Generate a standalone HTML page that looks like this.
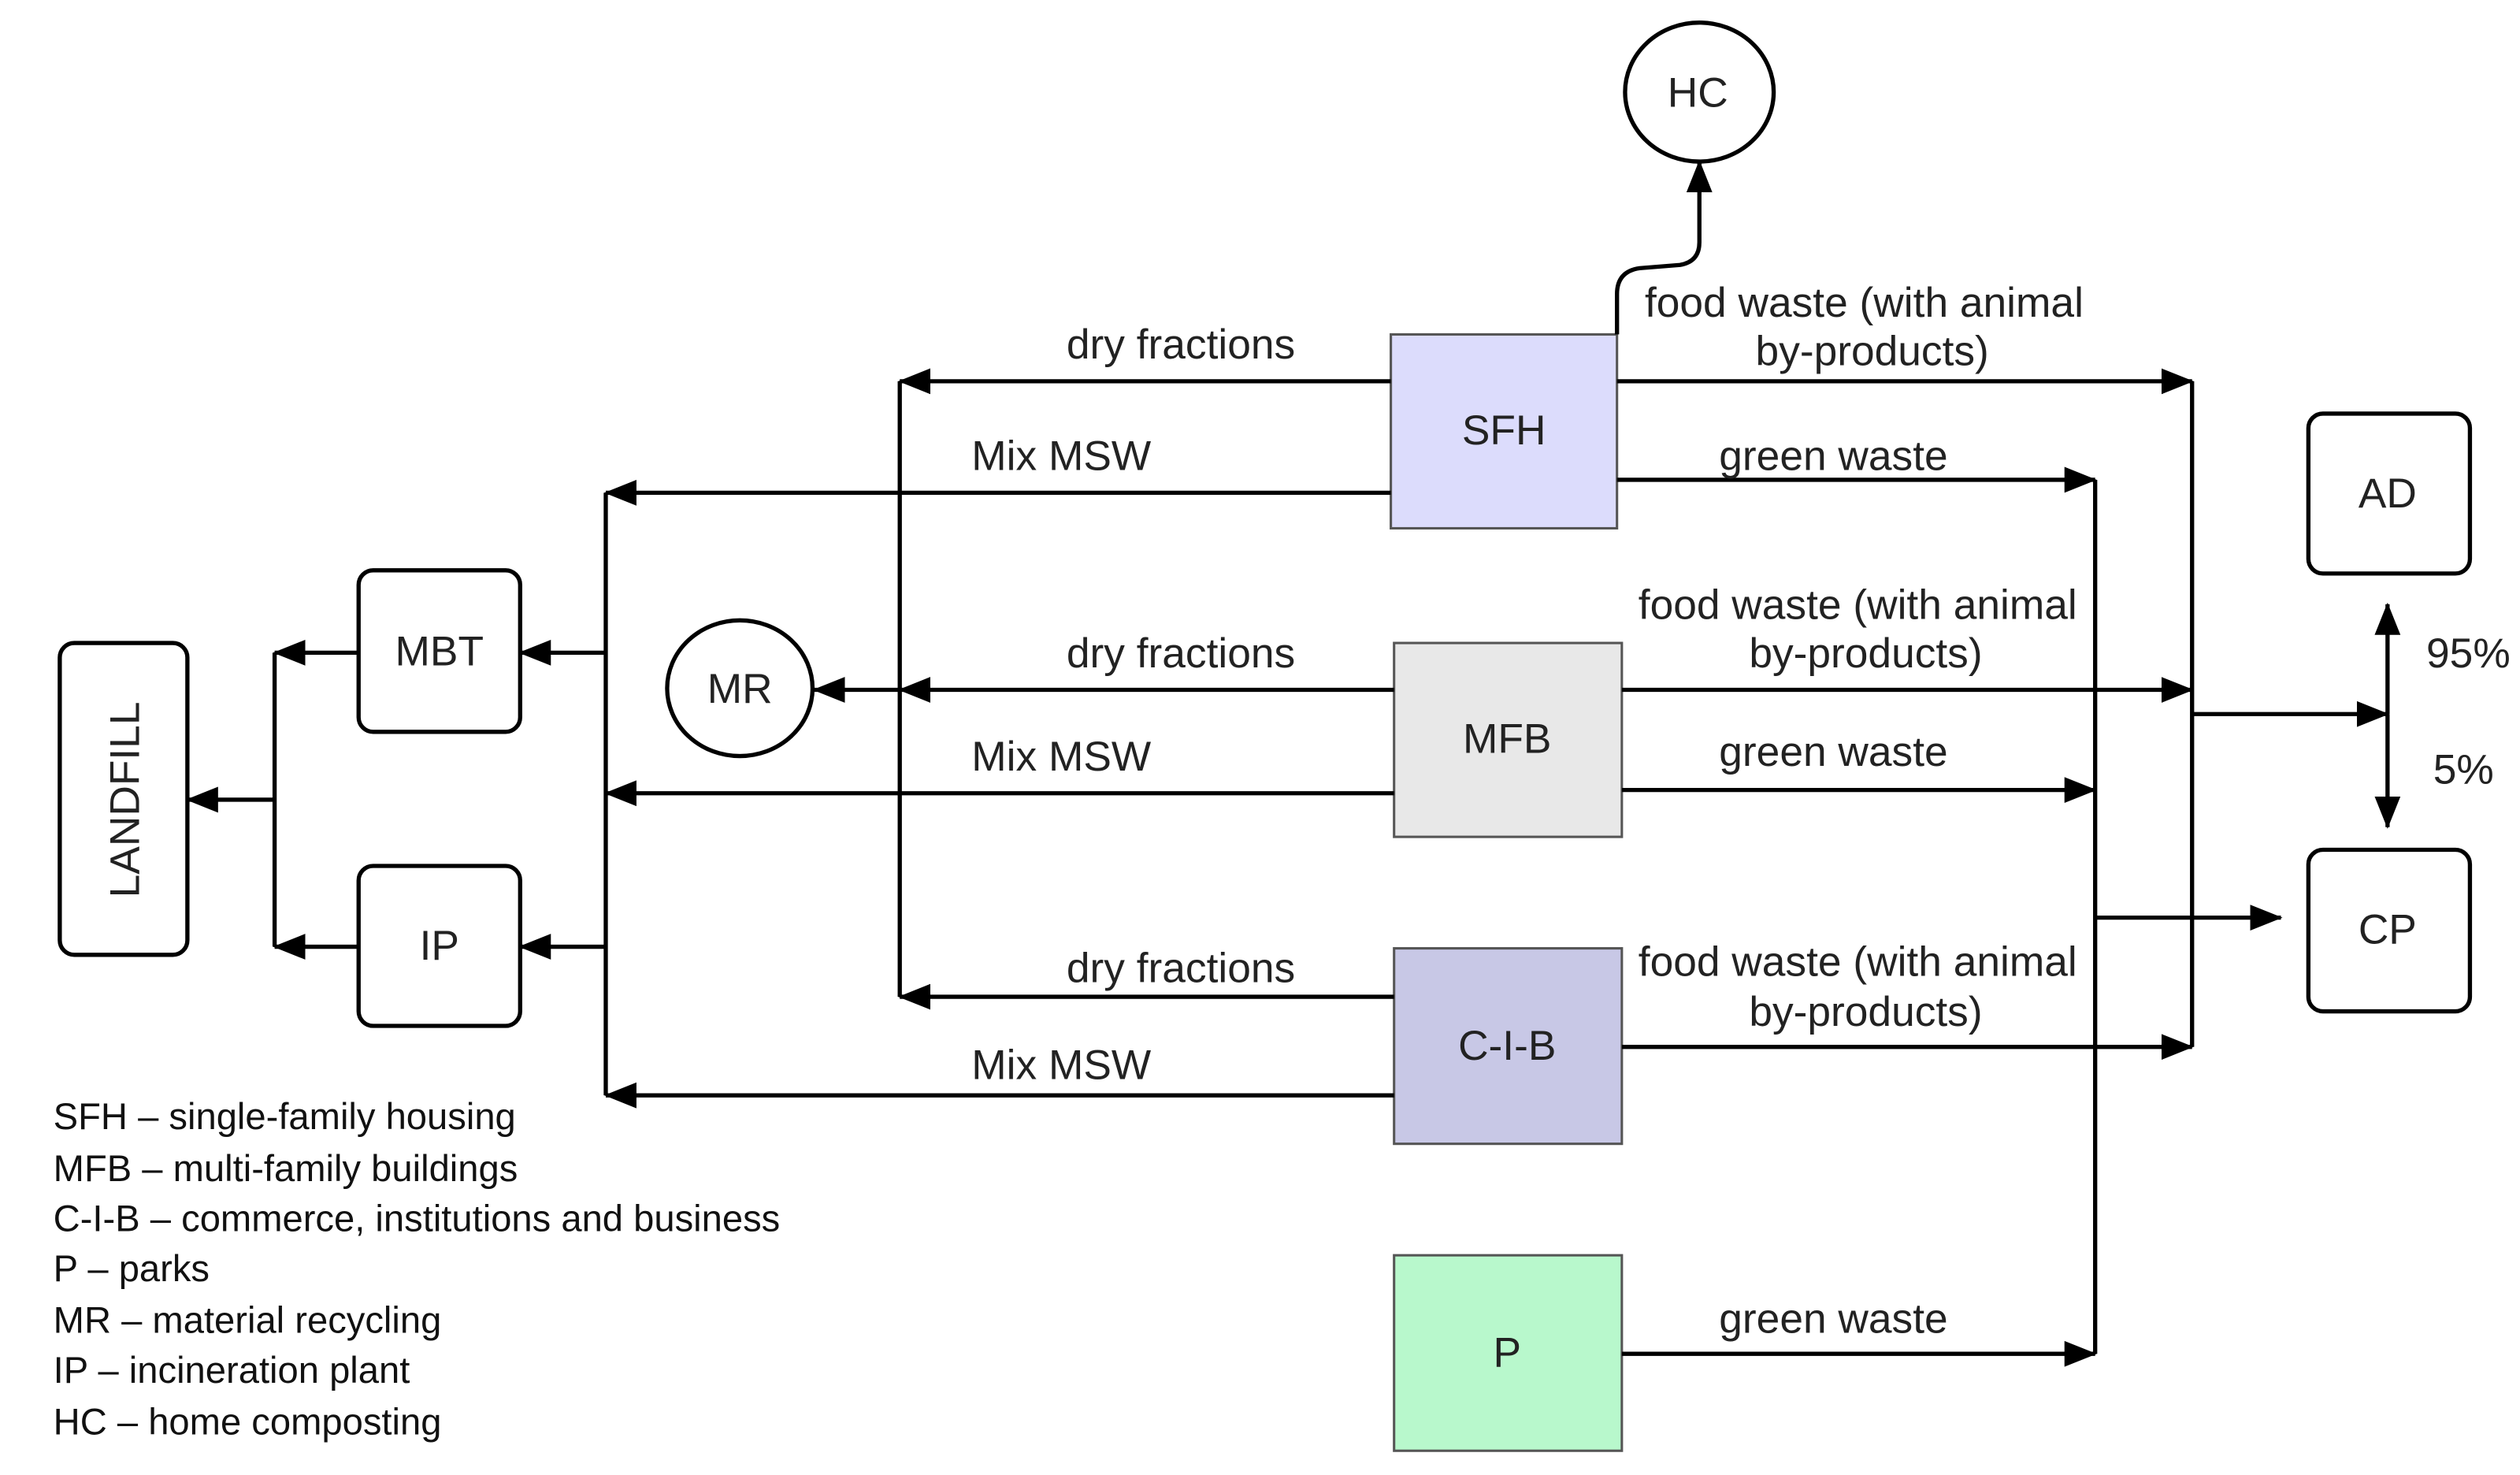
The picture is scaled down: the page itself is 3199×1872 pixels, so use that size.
<!DOCTYPE html>
<html><head><meta charset="utf-8"><style>
html,body{margin:0;padding:0;background:#fff;width:3199px;height:1872px;overflow:hidden}
svg{display:block}
text{font-family:"Liberation Sans",Arial,sans-serif;fill:#222}
.l{font-family:"Liberation Sans Narrow","Liberation Sans",sans-serif;font-size:23px;fill:#111}
</style></head><body>
<svg width="3199" height="1872" viewBox="0 0 1560 913" preserveAspectRatio="none" xmlns="http://www.w3.org/2000/svg">
<defs>
<marker id="a" markerWidth="20" markerHeight="20" refX="19" refY="10" orient="auto" markerUnits="userSpaceOnUse">
<path d="M0,2 L20,10 L0,18 Z" fill="#000"/></marker>
</defs>
<g stroke="#000" stroke-width="2.6" fill="none">
<rect x="861" y="207" width="140" height="120" fill="#dcdcfc" stroke="#555" stroke-width="1.5"/>
<rect x="863" y="398" width="141" height="120" fill="#e8e8e8" stroke="#555" stroke-width="1.5"/>
<rect x="863" y="587" width="141" height="121" fill="#c8c8e6" stroke="#555" stroke-width="1.5"/>
<rect x="863" y="777" width="141" height="121" fill="#b8f8cc" stroke="#555" stroke-width="1.5"/>
<rect x="1429" y="256" width="100" height="99" rx="9"/>
<rect x="1429" y="526" width="100" height="100" rx="9"/>
<rect x="37" y="398" width="79" height="193" rx="9"/>
<rect x="222" y="353" width="100" height="100" rx="9"/>
<rect x="222" y="536" width="100" height="99" rx="9"/>
<ellipse cx="1052" cy="57" rx="46" ry="43"/>
<ellipse cx="458" cy="426" rx="45" ry="42"/>
<line x1="861" y1="236" x2="557" y2="236" marker-end="url(#a)"/>
<line x1="557" y1="236" x2="557" y2="617"/>
<line x1="863" y1="617" x2="557" y2="617" marker-end="url(#a)"/>
<line x1="863" y1="427" x2="557" y2="427" marker-end="url(#a)"/>
<line x1="557" y1="427" x2="504" y2="427" marker-end="url(#a)"/>
<line x1="861" y1="305" x2="375" y2="305" marker-end="url(#a)"/>
<line x1="375" y1="305" x2="375" y2="678"/>
<line x1="863" y1="491" x2="375" y2="491" marker-end="url(#a)"/>
<line x1="863" y1="678" x2="375" y2="678" marker-end="url(#a)"/>
<line x1="375" y1="404" x2="322" y2="404" marker-end="url(#a)"/>
<line x1="375" y1="586" x2="322" y2="586" marker-end="url(#a)"/>
<line x1="222" y1="404" x2="170" y2="404" marker-end="url(#a)"/>
<line x1="222" y1="586" x2="170" y2="586" marker-end="url(#a)"/>
<line x1="170" y1="404" x2="170" y2="586"/>
<line x1="170" y1="495" x2="116" y2="495" marker-end="url(#a)"/>
<path d="M1001,207 L1001,182 Q1001,168 1015,166 L1040,164 Q1052,162 1052,150 L1052,100" marker-end="url(#a)"/>
<line x1="1001" y1="236" x2="1357" y2="236" marker-end="url(#a)"/>
<line x1="1357" y1="236" x2="1357" y2="648"/>
<line x1="1004" y1="427" x2="1357" y2="427" marker-end="url(#a)"/>
<line x1="1004" y1="648" x2="1357" y2="648" marker-end="url(#a)"/>
<line x1="1357" y1="442" x2="1478" y2="442" marker-end="url(#a)"/>
<line x1="1478" y1="442" x2="1478" y2="374" marker-end="url(#a)"/>
<line x1="1478" y1="442" x2="1478" y2="512" marker-end="url(#a)"/>
<line x1="1001" y1="297" x2="1297" y2="297" marker-end="url(#a)"/>
<line x1="1297" y1="297" x2="1297" y2="838"/>
<line x1="1004" y1="489" x2="1297" y2="489" marker-end="url(#a)"/>
<line x1="1004" y1="838" x2="1297" y2="838" marker-end="url(#a)"/>
<line x1="1297" y1="568" x2="1412" y2="568" marker-end="url(#a)"/>
</g>
<g font-size="26">
<text x="1051" y="66" text-anchor="middle">HC</text>
<text x="931" y="275" text-anchor="middle">SFH</text>
<text x="933" y="466" text-anchor="middle">MFB</text>
<text x="933" y="656" text-anchor="middle">C-I-B</text>
<text x="933" y="846" text-anchor="middle">P</text>
<text x="1478" y="314" text-anchor="middle">AD</text>
<text x="1478" y="584" text-anchor="middle">CP</text>
<text x="272" y="412" text-anchor="middle">MBT</text>
<text x="272" y="594" text-anchor="middle">IP</text>
<text x="458" y="435" text-anchor="middle">MR</text>
<text transform="translate(86,495) rotate(-90)" text-anchor="middle">LANDFILL</text>
<text x="1528" y="413" text-anchor="middle">95%</text>
<text x="1525" y="485" text-anchor="middle">5%</text>
<text x="731" y="222" text-anchor="middle">dry fractions</text>
<text x="731" y="413" text-anchor="middle">dry fractions</text>
<text x="731" y="608" text-anchor="middle">dry fractions</text>
<text x="657" y="291" text-anchor="middle">Mix MSW</text>
<text x="657" y="477" text-anchor="middle">Mix MSW</text>
<text x="657" y="668" text-anchor="middle">Mix MSW</text>
<text x="1154" y="196" text-anchor="middle">food waste (with animal</text>
<text x="1159" y="226" text-anchor="middle">by-products)</text>
<text x="1150" y="383" text-anchor="middle">food waste (with animal</text>
<text x="1155" y="413" text-anchor="middle">by-products)</text>
<text x="1150" y="604" text-anchor="middle">food waste (with animal</text>
<text x="1155" y="635" text-anchor="middle">by-products)</text>
<text x="1135" y="291" text-anchor="middle">green waste</text>
<text x="1135" y="474" text-anchor="middle">green waste</text>
<text x="1135" y="825" text-anchor="middle">green waste</text>
</g>
<text class="l" x="33" y="699">SFH – single-family housing</text>
<text class="l" x="33" y="731">MFB – multi-family buildings</text>
<text class="l" x="33" y="762">C-I-B – commerce, institutions and business</text>
<text class="l" x="33" y="793">P – parks</text>
<text class="l" x="33" y="825">MR – material recycling</text>
<text class="l" x="33" y="856">IP – incineration plant</text>
<text class="l" x="33" y="888">HC – home composting</text>
</svg>
</body></html>
